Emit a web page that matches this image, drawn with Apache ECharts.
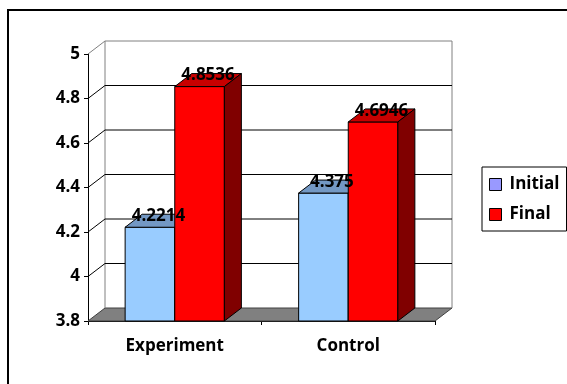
<!DOCTYPE html>
<html>
<head>
<meta charset="utf-8">
<script src="https://cdn.jsdelivr.net/npm/echarts@6/dist/echarts.min.js"></script>
<style>
  html, body { margin: 0; padding: 0; background: #fff; }
  #chart { width: 567px; height: 384px; }
</style>
</head>
<body>
<div id="chart"></div>
<script>
// Mean scores per group, before and after
const categories = ['Experiment', 'Control'];
const initialScores = [4.2214, 4.375];
const finalScores = [4.8536, 4.6946];
const yTicks = [3.8, 4, 4.2, 4.4, 4.6, 4.8, 5];

// Depth offset of the pseudo-3D box and bars
const DX = 17, DY = -13;
const FONT = '"Open Sans"';
const FONT_SIZE = 17;
const BAR_RATIO = 0.286;

const chart = echarts.init(document.getElementById('chart'), null, { renderer: 'canvas' });

// Back wall, side wall and floor, drawn from the y tick values
function renderWalls(params, api) {
  const cs = params.coordSys;
  const v = api.value(1);
  const y = api.coord([0, v])[1];
  const yFloor = api.coord([0, yTicks[0]])[1];
  const yTop = api.coord([0, yTicks[yTicks.length - 1]])[1];
  const x0 = cs.x, x1 = cs.x + cs.width;
  const children = [];
  if (v === yTicks[0]) {
    children.push({
      type: 'polygon',
      shape: { points: [[x0, y], [x1, y], [x1 + DX, y + DY], [x0 + DX, y + DY]] },
      style: { fill: '#808080', stroke: '#404040', lineWidth: 1 }
    });
    // back wall edges
    children.push({
      type: 'polyline',
      shape: { points: [[x0 + DX, yFloor + DY], [x0 + DX, yTop + DY]] },
      style: { stroke: '#808080', lineWidth: 1, fill: null }
    });
    children.push({
      type: 'polyline',
      shape: { points: [[x1 + DX, yFloor + DY], [x1 + DX, yTop + DY]] },
      style: { stroke: '#808080', lineWidth: 1, fill: null }
    });
  } else {
    const top = v === yTicks[yTicks.length - 1];
    children.push({
      type: 'polyline',
      shape: { points: [[x0, y], [x0 + DX, y + DY], [x1 + DX, y + DY]] },
      style: { stroke: top ? '#808080' : '#000', lineWidth: 1, fill: null }
    });
  }
  return { type: 'group', children: children };
}

function barRenderer(offsetSign, colors) {
  return function (params, api) {
    const idx = api.value(0);
    const v = api.value(1);
    const base = api.coord([idx, yTicks[0]]);
    const top = api.coord([idx, v]);
    const band = api.size([1, 0])[0];
    const w = band * BAR_RATIO;
    const xl = offsetSign < 0 ? base[0] - w : base[0];
    const xr = xl + w;
    const ty = top[1], by = base[1];
    return {
      type: 'group',
      children: [
        {
          type: 'polygon',
          shape: { points: [[xl, ty], [xr, ty], [xr, by], [xl, by]] },
          style: { fill: colors[0], stroke: '#000', lineWidth: 1 }
        },
        {
          type: 'polygon',
          shape: { points: [[xl, ty], [xr, ty], [xr + DX, ty + DY], [xl + DX, ty + DY]] },
          style: { fill: colors[1], stroke: '#000', lineWidth: 1 }
        },
        {
          type: 'polygon',
          shape: { points: [[xr, ty], [xr + DX, ty + DY], [xr + DX, by + DY], [xr, by]] },
          style: { fill: colors[2], stroke: '#000', lineWidth: 1 }
        },
        {
          type: 'text',
          z2: 50,
          style: {
            x: xl + w / 2 + DX / 2,
            y: ty + DY + 2,
            text: String(v),
            align: 'center',
            verticalAlign: 'middle',
            fill: '#000',
            font: 'bold ' + FONT_SIZE + 'px ' + FONT
          }
        }
      ]
    };
  };
}

const option = {
  animation: false,
  backgroundColor: '#fff',
  grid: { left: 88, top: 54, width: 347, height: 267 },
  graphic: [{
    type: 'rect',
    shape: { x: 8, y: 10, width: 700, height: 500 },
    style: { fill: null, stroke: '#000', lineWidth: 2 },
    silent: true
  }],
  legend: {
    orient: 'vertical',
    left: 482,
    top: 167,
    padding: [9, 7, 8, 7],
    itemGap: 13,
    itemWidth: 12,
    itemHeight: 12,
    borderColor: '#000',
    borderWidth: 1,
    textStyle: { fontFamily: FONT, fontWeight: 'bold', fontSize: FONT_SIZE, color: '#000', padding: [0, 0, 0, 3] },
    data: [
      { name: 'Initial', icon: 'rect', itemStyle: { color: '#9999FF', borderColor: '#000', borderWidth: 1 } },
      { name: 'Final', icon: 'rect', itemStyle: { color: '#FF0000', borderColor: '#000', borderWidth: 1 } }
    ]
  },
  xAxis: {
    type: 'category',
    data: categories,
    boundaryGap: true,
    axisLine: { lineStyle: { color: '#000', width: 1 } },
    axisTick: { show: true, length: 4, lineStyle: { color: '#000' } },
    axisLabel: { margin: 17, fontFamily: FONT, fontWeight: 'bold', fontSize: FONT_SIZE, color: '#000' },
    splitLine: { show: false }
  },
  yAxis: {
    type: 'value',
    min: 3.8,
    max: 5,
    interval: 0.2,
    axisLine: { show: true, lineStyle: { color: '#000', width: 1 } },
    axisTick: { show: true, length: 4, lineStyle: { color: '#000' } },
    axisLabel: {
      margin: 8, fontFamily: FONT, fontWeight: 'bold', fontSize: FONT_SIZE, color: '#000',
      formatter: function (v) { return String(Math.round(v * 10) / 10); }
    },
    splitLine: { show: false }
  },
  series: [
    {
      type: 'custom',
      name: 'walls',
      z: 1,
      silent: true,
      renderItem: renderWalls,
      data: yTicks.map(function (v) { return [0, v]; })
    },
    {
      type: 'custom',
      name: 'Initial',
      z: 2,
      itemStyle: { color: '#9999FF' },
      renderItem: barRenderer(-1, ['#99CCFF', '#7398C4', '#5C7A99']),
      data: categories.map(function (c, i) { return [i, initialScores[i]]; })
    },
    {
      type: 'custom',
      name: 'Final',
      z: 2,
      itemStyle: { color: '#FF0000' },
      renderItem: barRenderer(1, ['#FF0000', '#C80000', '#800000']),
      data: categories.map(function (c, i) { return [i, finalScores[i]]; })
    }
  ]
};

chart.setOption(option);
</script>
</body>
</html>
